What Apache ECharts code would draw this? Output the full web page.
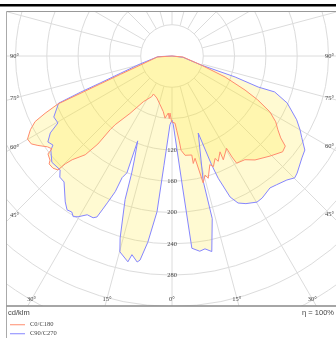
<!DOCTYPE html>
<html>
<head>
<meta charset="utf-8">
<script src="https://cdn.jsdelivr.net/npm/echarts@6/dist/echarts.min.js"></script>
<style>
  html, body { margin: 0; padding: 0; background: #fff; }
  #chart { width: 336px; height: 338px; }
</style>
</head>
<body>
<div id="chart"></div>
<script>
// luminous intensity, cd/klm, by gamma angle (deg, 0 = straight down)
// C180 half (drawn on the left), from 90 deg down to 0
const c180Gamma = [86, 74, 70.4, 68.7, 67.8, 67.2, 65.7, 64.4, 62.5, 60.1, 58, 56.3, 53.9, 52.3, 51.7, 49.5, 48.7, 46.7, 45, 44.7, 43.9, 41.3, 40.1, 40, 39.6, 36.2, 32.1, 26.5, 26, 19.9, 18.6, 13.8, 8.9, 6.4, 3.7, 2.5, 2, 0.3];
const c180Value = [19, 42, 70, 99, 127, 158, 178, 194, 204, 213, 212, 206, 197, 194, 202, 205, 209, 209, 206, 194, 184, 168, 147, 123, 114, 91, 69, 58, 54, 57, 55, 64, 72, 80, 73, 80, 73, 84];
// C0 half (right), from 0 up to 90 deg
const c0Gamma = [1.2, 2.6, 3.6, 4.8, 5.5, 7.5, 11.3, 11.2, 12.7, 13.2, 13.8, 15.5, 16.5, 19.2, 20.5, 22.8, 23.7, 26.6, 26.3, 30.6, 30.7, 31.1, 35.1, 38.6, 44.4, 49.1, 51.5, 53, 55.1, 57.6, 60.3, 62.9, 65, 68.4, 72.8, 84.8];
const c0Value = [82, 86, 95, 108, 121, 128, 129, 140, 134, 147, 167, 158, 163, 147, 151, 142, 147, 137, 148, 137, 150, 160, 162, 170, 179, 187, 185, 174, 165, 157, 144, 123, 103, 73, 39, 14];
// C270 half (left), from 90 deg down to 0
const c270Gamma = [87.2, 76, 71.4, 69.4, 68.4, 67.4, 62.7, 59.6, 57.7, 55.3, 53.2, 52.2, 48.5, 44.5, 42.8, 40.6, 36.2, 34.3, 32.7, 31.6, 30.3, 28.1, 26, 25, 24.4, 23.7, 22.7, 22.3, 21.1, 22, 20, 19, 18.1, 15.9, 14.9, 12.1, 11.4, 9.6, 8.9, 7.4, 5.5, 4.2, 1.7, 0];
const c270Value = [18, 42, 70, 98, 126, 157, 170, 169, 184, 193, 190, 196, 205, 204, 211, 212, 231, 238, 237, 241, 238, 230, 230, 227, 216, 204, 188, 168, 160, 117, 140, 158, 193, 242, 259, 269, 259, 267, 264, 240, 200, 140, 88, 82];
// C90 half (right), from 0 up to 90 deg
const c90Gamma = [1.1, 4.6, 5.9, 6.2, 8.1, 9.7, 11.5, 13.9, 14, 18.8, 20, 20.7, 22.4, 24.2, 26.6, 30.2, 32.4, 36.6, 39.1, 42.8, 45.2, 46.9, 51.9, 54.7, 57.8, 60, 62.9, 67.8, 70.7, 70.2, 71.6, 72.8, 83.3];
const c90Value = [88, 168, 247, 249, 252, 250, 255, 214, 165, 104, 148, 167, 195, 206, 211, 216, 215, 210, 212, 216, 221, 219, 211, 208, 196, 189, 179, 159, 139, 117, 85, 39, 14];

const radiusTicks = [120, 160, 200, 240, 280];
const gammaLabels = [90, 75, 60, 45, 30, 15, 0];

const center = [172, 56];
const radiusMax = 400;
const radiusPx = 313;
const frame = { left: 6.5, top: 11.5, right: 336, bottom: 306 };
const gridColor = '#dcdcdc';
const redColor = '#ff8c6e';
const blueColor = '#8585ff';
const fillColor = 'rgba(255, 232, 50, 0.22)';

// left half: angle = gamma, right half: angle = 360 - gamma
function toPolar(leftGamma, leftValue, rightGamma, rightValue) {
  const pts = [[0, 90]];
  leftGamma.forEach((g, i) => pts.push([leftValue[i], g]));
  rightGamma.forEach((g, i) => pts.push([rightValue[i], 360 - g]));
  pts.push([0, 270]);
  return pts;
}

// gamma labels sit where each spoke meets the frame
function angleLabels() {
  const out = [];
  [-1, 1].forEach(side => {
    gammaLabels.forEach(g => {
      if (g === 0 && side === 1) return;
      const rad = g * Math.PI / 180;
      const dx = side * Math.sin(rad), dy = Math.cos(rad);
      const tx = dx < 0 ? (frame.left - center[0]) / dx : dx > 0 ? (frame.right - center[0]) / dx : Infinity;
      const ty = dy > 1e-6 ? (frame.bottom - center[1]) / dy : Infinity;
      const t = Math.min(tx, ty);
      const px = center[0] + t * dx, py = center[1] + t * dy;
      let x, y, align;
      if (tx < ty) {
        x = side < 0 ? 10 : 334;
        y = py - 9 * dy + 0.5;
        align = side < 0 ? 'left' : 'right';
      } else {
        x = px - 8 * dx;
        y = frame.bottom - 7;
        align = 'center';
      }
      out.push({
        type: 'text', z: 110, x: x, y: y,
        style: { text: g + '°', fill: '#444', font: '6.5px "Liberation Serif"', textAlign: align, textVerticalAlign: 'middle' }
      });
    });
  });
  return out;
}

const chart = echarts.init(document.getElementById('chart'), null, { renderer: 'canvas' });

const option = {
  animation: false,
  backgroundColor: '#fff',
  polar: [
    { center: center, radius: radiusPx },
    { center: center, radius: [40 * radiusPx / radiusMax, radiusPx] }
  ],
  angleAxis: [
    {
      polarIndex: 0, type: 'value', min: 0, max: 360, startAngle: 270, clockwise: true,
      axisLine: { show: false }, axisTick: { show: false }, axisLabel: { show: false }, splitLine: { show: false }
    },
    {
      polarIndex: 1, type: 'value', min: 0, max: 360, interval: 15, startAngle: 270, clockwise: true,
      axisLine: { show: false }, axisTick: { show: false }, axisLabel: { show: false },
      splitLine: { show: true, lineStyle: { color: gridColor, width: 1 } }
    }
  ],
  radiusAxis: [
    {
      polarIndex: 0, type: 'value', min: 0, max: radiusMax, interval: 40,
      axisLine: { show: false }, axisTick: { show: false },
      splitLine: { show: true, lineStyle: { color: gridColor, width: 1 } },
      axisLabel: {
        margin: 0, align: 'center', verticalAlign: 'middle',
        fontSize: 6.5, fontFamily: 'Liberation Serif', color: '#444',
        formatter: v => (radiusTicks.includes(v) ? String(v) : '')
      }
    },
    { polarIndex: 1, type: 'value', min: 0, max: 1, show: false }
  ],
  legend: {
    orient: 'vertical', left: 10, top: 321, z: 120, padding: 0,
    icon: 'rect', itemWidth: 15, itemHeight: 1, itemGap: 1.5,
    textStyle: { fontSize: 6.5, fontFamily: 'Liberation Serif', color: '#444', lineHeight: 7.5 },
    data: ['C0/C180', 'C90/C270']
  },
  series: [
    {
      name: 'C90/C270', type: 'line', coordinateSystem: 'polar', polarIndex: 0,
      data: toPolar(c270Gamma, c270Value, c90Gamma, c90Value),
      symbol: 'none', smooth: false,
      lineStyle: { color: blueColor, width: 1 },
      itemStyle: { color: blueColor },
      areaStyle: { color: fillColor, opacity: 1 }
    },
    {
      name: 'C0/C180', type: 'line', coordinateSystem: 'polar', polarIndex: 0,
      data: toPolar(c180Gamma, c180Value, c0Gamma, c0Value),
      symbol: 'none', smooth: false,
      lineStyle: { color: redColor, width: 1 },
      itemStyle: { color: redColor },
      areaStyle: { color: fillColor, opacity: 1 }
    }
  ],
  graphic: [
    // mask the polar grid outside the frame
    { type: 'rect', z: 50, shape: { x: 0, y: 0, width: 336, height: frame.top }, style: { fill: '#fff' } },
    { type: 'rect', z: 50, shape: { x: 0, y: 0, width: frame.left, height: 338 }, style: { fill: '#fff' } },
    { type: 'rect', z: 50, shape: { x: 0, y: frame.bottom, width: 336, height: 338 - frame.bottom }, style: { fill: '#fff' } },
    { type: 'rect', z: 60, shape: { x: 0, y: 4, width: 336, height: 2.5 }, style: { fill: '#000' } },
    { type: 'line', z: 60, shape: { x1: frame.left, y1: frame.top, x2: frame.right, y2: frame.top }, style: { stroke: '#999', lineWidth: 1 } },
    { type: 'line', z: 60, shape: { x1: frame.left, y1: frame.top, x2: frame.left, y2: 338 }, style: { stroke: '#aaa', lineWidth: 1 } },
    { type: 'line', z: 60, shape: { x1: frame.left, y1: frame.bottom, x2: frame.right, y2: frame.bottom }, style: { stroke: '#888', lineWidth: 1.5 } },
    { type: 'text', z: 110, x: 8, y: 313, style: { text: 'cd/klm', fill: '#444', font: '7.5px "Liberation Sans"', textVerticalAlign: 'middle' } },
    { type: 'text', z: 110, x: 334, y: 313, style: { text: 'η = 100%', fill: '#444', font: '7.5px "Liberation Sans"', textAlign: 'right', textVerticalAlign: 'middle' } }
  ].concat(angleLabels())
};

chart.setOption(option);
</script>
</body>
</html>
